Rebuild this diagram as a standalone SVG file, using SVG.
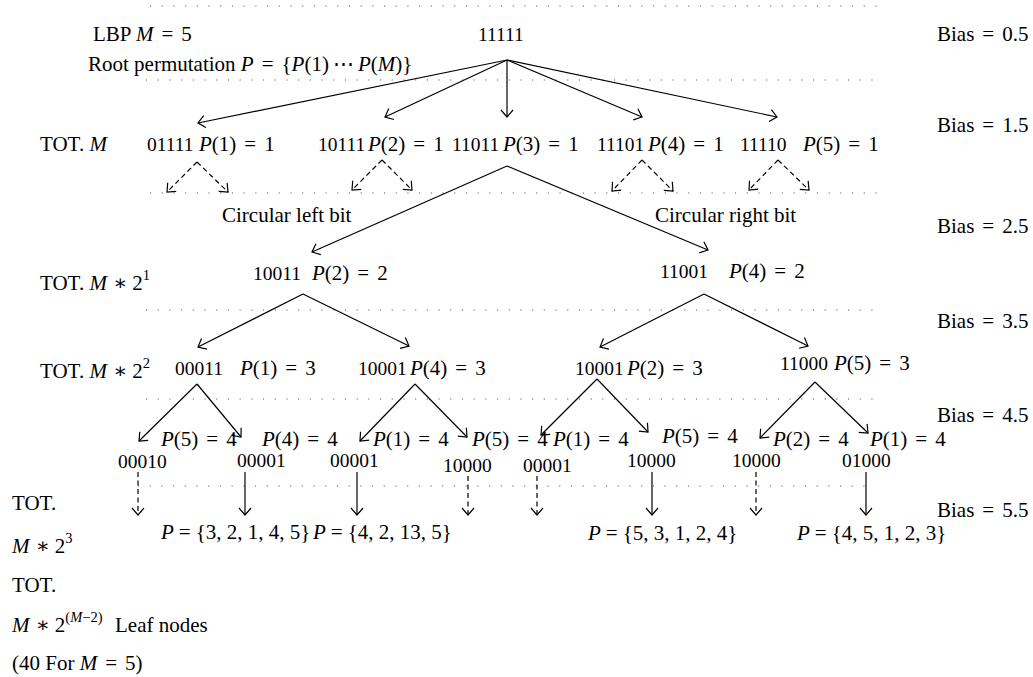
<svg xmlns="http://www.w3.org/2000/svg" width="1033" height="677" viewBox="0 0 1033 677">
<style>
text{font-family:"Liberation Serif","DejaVu Serif",serif;font-size:21px;fill:#000}
.c{font-size:19.5px}
.i{font-style:italic}
.sup{font-size:14.5px}
.dot{stroke:#555;stroke-width:1.1;stroke-dasharray:1.1 10.6;fill:none}
.ln{stroke:#000;stroke-width:1.2;fill:none;marker-end:url(#ah)}
.ds{stroke:#000;stroke-width:1.2;fill:none;stroke-dasharray:5 3.5;marker-end:url(#ah)}
</style>
<defs>
<marker id="ah" markerUnits="userSpaceOnUse" viewBox="-9 -8 11 16" markerWidth="11" markerHeight="16" refX="0" refY="0" orient="auto">
<path d="M-7,-6 L0,0 L-7,6" fill="none" stroke="#000" stroke-width="1.2"/>
</marker>
</defs>
<g id="guides">
<line class="dot" x1="150" y1="6" x2="878" y2="6"/>
<line class="dot" x1="146" y1="80" x2="874" y2="80"/>
<line class="dot" x1="150" y1="193" x2="878" y2="193"/>
<line class="dot" x1="146" y1="310" x2="874" y2="310"/>
<line class="dot" x1="146" y1="399" x2="874" y2="399"/>
<line class="dot" x1="138" y1="486" x2="868" y2="486"/>
</g>
<g id="labels">
<text x="93" y="41">LBP <tspan class="i">M</tspan><tspan dx="8">=</tspan><tspan dx="8">5</tspan></text>
<text x="88" y="71">Root permutation <tspan class="i">P</tspan><tspan dx="8">=</tspan><tspan dx="8">{</tspan><tspan class="i">P</tspan>(1)<tspan dx="4">⋯</tspan><tspan dx="4" class="i">P</tspan>(<tspan class="i">M</tspan>)}</text>
<text x="40" y="151">TOT. <tspan class="i">M</tspan></text>
<text x="40" y="290">TOT. <tspan class="i">M</tspan><tspan dx="6">∗</tspan><tspan dx="5">2</tspan><tspan class="sup" dy="-10">1</tspan></text>
<text x="40" y="378">TOT. <tspan class="i">M</tspan><tspan dx="6">∗</tspan><tspan dx="5">2</tspan><tspan class="sup" dy="-10">2</tspan></text>
<text x="12" y="510">TOT.</text>
<text x="12" y="553"><tspan class="i">M</tspan><tspan dx="6">∗</tspan><tspan dx="5">2</tspan><tspan class="sup" dy="-10">3</tspan></text>
<text x="12" y="592">TOT.</text>
<text x="12" y="632"><tspan class="i">M</tspan><tspan dx="6">∗</tspan><tspan dx="5">2</tspan><tspan class="sup" dy="-10">(<tspan class="i">M</tspan>−2)</tspan><tspan x="115" dy="10">Leaf nodes</tspan></text>
<text x="12" y="670">(40 For <tspan class="i">M</tspan><tspan dx="8">=</tspan><tspan dx="8">5)</tspan></text>
<text x="222" y="222">Circular left bit</text>
<text x="655" y="222">Circular right bit</text>
<text x="937" y="41">Bias<tspan dx="8">=</tspan><tspan dx="8">0.5</tspan></text>
<text x="937" y="132">Bias<tspan dx="8">=</tspan><tspan dx="8">1.5</tspan></text>
<text x="937" y="233">Bias<tspan dx="8">=</tspan><tspan dx="8">2.5</tspan></text>
<text x="937" y="328">Bias<tspan dx="8">=</tspan><tspan dx="8">3.5</tspan></text>
<text x="937" y="422">Bias<tspan dx="8">=</tspan><tspan dx="8">4.5</tspan></text>
<text x="937" y="517">Bias<tspan dx="8">=</tspan><tspan dx="8">5.5</tspan></text>
</g>
<g id="connectors">
<path class="ln" d="M507,60 L198,123"/>
<path class="ln" d="M507,60 L385,117"/>
<path class="ln" d="M507,60 L507,117"/>
<path class="ln" d="M507,60 L642,117"/>
<path class="ln" d="M507,60 L777,117"/>
<path class="ds" d="M197,162 L167,192"/>
<path class="ds" d="M197,162 L228,192"/>
<path class="ds" d="M382,160 L352,190"/>
<path class="ds" d="M382,160 L412,190"/>
<path class="ds" d="M642,160 L612,191"/>
<path class="ds" d="M642,160 L673,191"/>
<path class="ds" d="M778,160 L749,190"/>
<path class="ds" d="M778,160 L809,190"/>
<path class="ln" d="M507,166 L312,252"/>
<path class="ln" d="M507,166 L708,250"/>
<path class="ln" d="M303,294 L198,347"/>
<path class="ln" d="M303,294 L409,346"/>
<path class="ln" d="M704,294 L600,347"/>
<path class="ln" d="M704,294 L808,346"/>
<path class="ln" d="M197,384 L139,441"/>
<path class="ln" d="M197,384 L241,437"/>
<path class="ln" d="M415,384 L360,441"/>
<path class="ln" d="M415,384 L467,437"/>
<path class="ln" d="M597,379 L541,435"/>
<path class="ln" d="M597,379 L648,432"/>
<path class="ln" d="M815,382 L760,438"/>
<path class="ln" d="M815,382 L868,433"/>
<path class="ds" d="M138,472 L138,515"/>
<path class="ln" d="M245,472 L245,515"/>
<path class="ln" d="M357,472 L357,515"/>
<path class="ds" d="M468,476 L468,515"/>
<path class="ds" d="M537,476 L537,515"/>
<path class="ln" d="M652,472 L652,515"/>
<path class="ds" d="M756,472 L756,515"/>
<path class="ln" d="M866,472 L866,515"/>
</g>
<g id="n-root"><text class="c" x="478" y="41">11111</text></g>
<g id="n-01111"><text class="c" x="147" y="151">01111</text><text x="199" y="151"><tspan class="i">P</tspan>(1)<tspan dx="8">=</tspan><tspan dx="8">1</tspan></text></g>
<g id="n-10111"><text class="c" x="318" y="151">10111</text><text x="368" y="151"><tspan class="i">P</tspan>(2)<tspan dx="8">=</tspan><tspan dx="8">1</tspan></text></g>
<g id="n-11011"><text class="c" x="452" y="151">11011</text><text x="503" y="151"><tspan class="i">P</tspan>(3)<tspan dx="8">=</tspan><tspan dx="8">1</tspan></text></g>
<g id="n-11101"><text class="c" x="597" y="151">11101</text><text x="648" y="151"><tspan class="i">P</tspan>(4)<tspan dx="8">=</tspan><tspan dx="8">1</tspan></text></g>
<g id="n-11110"><text class="c" x="740" y="151">11110</text><text x="803" y="151"><tspan class="i">P</tspan>(5)<tspan dx="8">=</tspan><tspan dx="8">1</tspan></text></g>
<g id="n-10011"><text class="c" x="253" y="280">10011</text><text x="312" y="280"><tspan class="i">P</tspan>(2)<tspan dx="8">=</tspan><tspan dx="8">2</tspan></text></g>
<g id="n-11001"><text class="c" x="660" y="278">11001</text><text x="729" y="278"><tspan class="i">P</tspan>(4)<tspan dx="8">=</tspan><tspan dx="8">2</tspan></text></g>
<g id="n-00011"><text class="c" x="175" y="375">00011</text><text x="240" y="375"><tspan class="i">P</tspan>(1)<tspan dx="8">=</tspan><tspan dx="8">3</tspan></text></g>
<g id="n-10001a"><text class="c" x="358" y="375">10001</text><text x="410" y="375"><tspan class="i">P</tspan>(4)<tspan dx="8">=</tspan><tspan dx="8">3</tspan></text></g>
<g id="n-10001b"><text class="c" x="575" y="375">10001</text><text x="627" y="375"><tspan class="i">P</tspan>(2)<tspan dx="8">=</tspan><tspan dx="8">3</tspan></text></g>
<g id="n-11000"><text class="c" x="780" y="370">11000</text><text x="834" y="370"><tspan class="i">P</tspan>(5)<tspan dx="8">=</tspan><tspan dx="8">3</tspan></text></g>
<g id="n-00010"><text x="161" y="446"><tspan class="i">P</tspan>(5)<tspan dx="8">=</tspan><tspan dx="8">4</tspan></text><text class="c" x="118" y="468">00010</text></g>
<g id="n-00001a"><text x="262" y="446"><tspan class="i">P</tspan>(4)<tspan dx="8">=</tspan><tspan dx="8">4</tspan></text><text class="c" x="237" y="467">00001</text></g>
<g id="n-00001b"><text x="373" y="446"><tspan class="i">P</tspan>(1)<tspan dx="8">=</tspan><tspan dx="8">4</tspan></text><text class="c" x="330" y="467">00001</text></g>
<g id="n-10000a"><text x="472" y="446"><tspan class="i">P</tspan>(5)<tspan dx="8">=</tspan><tspan dx="8">4</tspan></text><text class="c" x="443" y="472">10000</text></g>
<g id="n-00001c"><text x="553" y="446"><tspan class="i">P</tspan>(1)<tspan dx="8">=</tspan><tspan dx="8">4</tspan></text><text class="c" x="523" y="472">00001</text></g>
<g id="n-10000b"><text x="662" y="443"><tspan class="i">P</tspan>(5)<tspan dx="8">=</tspan><tspan dx="8">4</tspan></text><text class="c" x="627" y="467">10000</text></g>
<g id="n-10000c"><text x="773" y="446"><tspan class="i">P</tspan>(2)<tspan dx="8">=</tspan><tspan dx="8">4</tspan></text><text class="c" x="732" y="467">10000</text></g>
<g id="n-01000"><text x="870" y="446"><tspan class="i">P</tspan>(1)<tspan dx="8">=</tspan><tspan dx="8">4</tspan></text><text class="c" x="842" y="467">01000</text></g>
<g id="n-leaf1"><text x="161" y="539"><tspan class="i">P</tspan><tspan dx="5">=</tspan><tspan dx="5">{3, 2, 1, 4, 5}</tspan></text></g>
<g id="n-leaf2"><text x="313" y="539"><tspan class="i">P</tspan><tspan dx="5">=</tspan><tspan dx="5">{4, 2, 13, 5}</tspan></text></g>
<g id="n-leaf3"><text x="588" y="540"><tspan class="i">P</tspan><tspan dx="5">=</tspan><tspan dx="5">{5, 3, 1, 2, 4}</tspan></text></g>
<g id="n-leaf4"><text x="797" y="540"><tspan class="i">P</tspan><tspan dx="5">=</tspan><tspan dx="5">{4, 5, 1, 2, 3}</tspan></text></g>
</svg>
